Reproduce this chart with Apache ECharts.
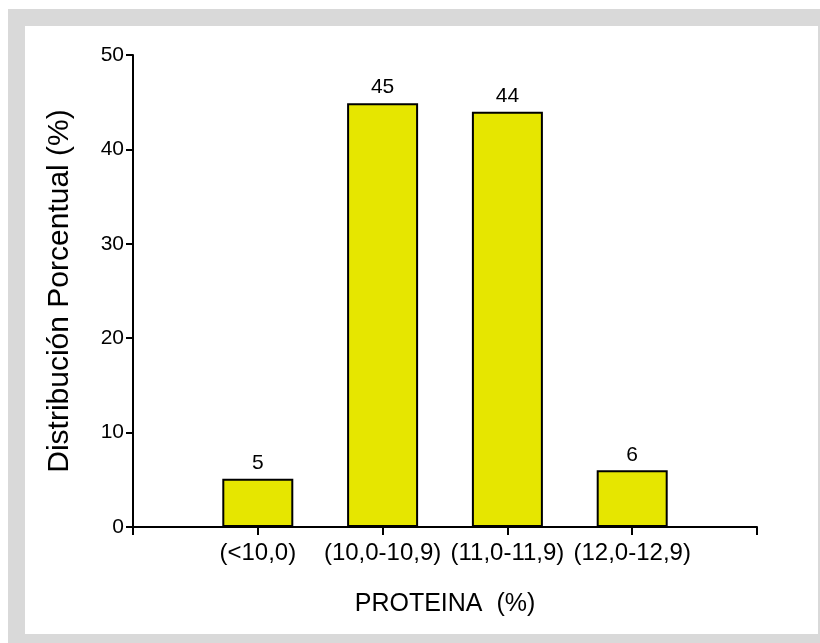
<!DOCTYPE html>
<html>
<head>
<meta charset="utf-8">
<script src="https://cdn.jsdelivr.net/npm/echarts@6/dist/echarts.min.js"></script>
<style>
html,body{margin:0;padding:0;background:#fff;}
#c{width:820px;height:643px;}
</style>
</head>
<body>
<div id="c"></div>
<script>
var categories = ['', '(<10,0)', '(10,0-10,9)', '(11,0-11,9)', '(12,0-12,9)', ''];
var values = [null, 5.1, 44.9, 44.0, 6.0, null];
var valueLabels = ['', '5', '45', '44', '6', ''];
var yTicks = [0, 10, 20, 30, 40, 50];

var chart = echarts.init(document.getElementById('c'), null, {renderer: 'canvas'});
var font = '"Liberation Sans", Arial, sans-serif';
chart.setOption({
  animation: false,
  graphic: [
    {type: 'rect', shape: {x: 8, y: 9, width: 812, height: 634}, style: {fill: '#d9d9d9'}, z: -10, silent: true},
    {type: 'rect', shape: {x: 25, y: 26, width: 793, height: 608}, style: {fill: '#ffffff'}, z: -9, silent: true}
  ],
  grid: {left: 133, right: 63, top: 55, bottom: 116, containLabel: false},
  xAxis: {
    type: 'category',
    data: categories,
    boundaryGap: false,
    name: 'PROTEINA  (%)',
    nameLocation: 'middle',
    nameGap: 65,
    nameTextStyle: {fontFamily: font, fontSize: 25, color: '#000'},
    axisLine: {show: true, lineStyle: {color: '#000', width: 2}},
    axisTick: {show: true, length: 8, alignWithLabel: true, lineStyle: {color: '#000', width: 2}},
    axisLabel: {fontFamily: font, fontSize: 24, color: '#000', margin: 14, interval: 0},
    splitLine: {show: false}
  },
  yAxis: {
    type: 'value',
    min: yTicks[0],
    max: yTicks[yTicks.length - 1],
    interval: 10,
    name: 'Distribución Porcentual (%)',
    nameLocation: 'middle',
    nameGap: 58,
    nameTextStyle: {fontFamily: font, fontSize: 30, color: '#000'},
    axisLine: {show: true, lineStyle: {color: '#000', width: 2}},
    axisTick: {show: true, length: 7, lineStyle: {color: '#000', width: 2}},
    axisLabel: {fontFamily: font, fontSize: 21, color: '#000', margin: 9},
    splitLine: {show: false}
  },
  series: [{
    type: 'bar',
    data: values,
    barWidth: 71,
    itemStyle: {color: '#e6e600', borderColor: '#000', borderWidth: 2},
    label: {
      show: true,
      position: 'top',
      distance: 5,
      fontFamily: font,
      fontSize: 21,
      color: '#000',
      formatter: function (p) { return valueLabels[p.dataIndex]; }
    }
  }]
});
</script>
</body>
</html>
